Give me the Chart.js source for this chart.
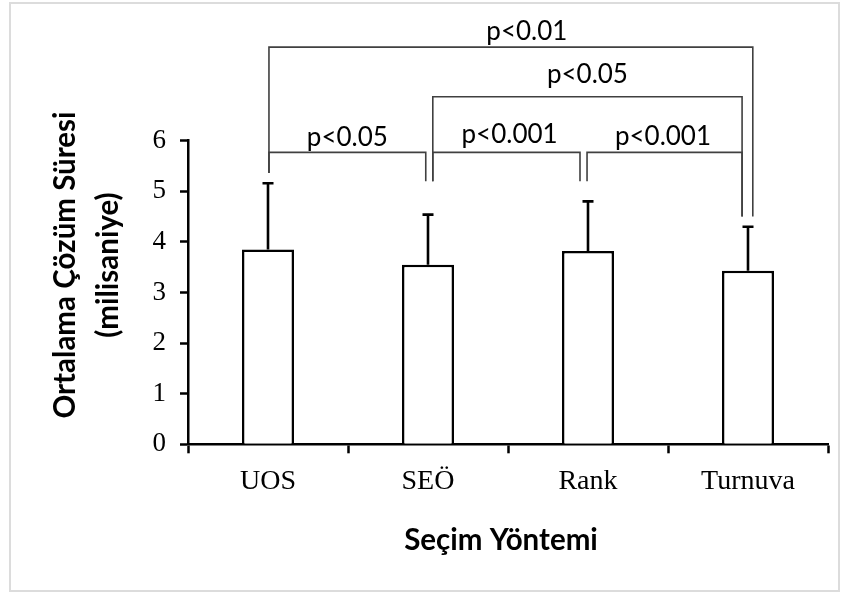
<!DOCTYPE html>
<html>
<head>
<meta charset="utf-8">
<script src="https://cdn.jsdelivr.net/npm/chart.js@4.4.1/dist/chart.umd.min.js"></script>
<style>
  html, body { margin: 0; padding: 0; background: #fff; }
  #wrap { width: 842px; height: 595px; position: relative; }
</style>
</head>
<body>
<div id="wrap"><canvas id="chart" width="842" height="595"></canvas></div>
<script>
// Mean solution time per selection method, with standard deviation
const categories = ['UOS', 'SEÖ', 'Rank', 'Turnuva'];
const meanTimes = [3.85, 3.55, 3.82, 3.43];
const stdDevs = [1.31, 0.99, 0.98, 0.87];
const yTickValues = [0, 1, 2, 3, 4, 5, 6];

// Pairwise significance comparisons (category indices) and their labels
const comparisonPairs = [[0, 1], [1, 2], [2, 3], [1, 3], [0, 3]];
const comparisonLabels = ['p<0.05', 'p<0.001', 'p<0.001', 'p<0.05', 'p<0.01'];

const yAxisTitle = ['Ortalama Çözüm Süresi', '(milisaniye)'];
const xAxisTitle = 'Seçim Yöntemi';

// Bracket geometry: level of the horizontal bar and bottom of each leg (value units),
// leg shifts off the category centres and label placement.
const bracketLayout = [
  { level: 5.77, feet: [5.36, 5.20], shift: [0.006, -0.014], labelDx: 0.0,  labelY: 5.894 },
  { level: 5.77, feet: [5.20, 5.20], shift: [0.03, -0.05],   labelDx: 0.02, labelY: 5.95 },
  { level: 5.77, feet: [5.20, 4.50], shift: [-0.006, -0.037], labelDx: -0.01, labelY: 5.915 },
  { level: 6.87, feet: [5.20, 4.50], shift: [0.03, -0.037],  labelDx: 0.0,  labelY: 7.14 },
  { level: 7.85, feet: [5.36, 4.50], shift: [0.006, 0.03],   labelDx: 0.10, labelY: 7.99 }
];

const serif = "'Liberation Serif', 'Times New Roman', serif";
const sans = "Lato, 'Open Sans', sans-serif";

const framePlugin = {
  id: 'frame',
  beforeDraw(chart) {
    const c = chart.ctx;
    c.save();
    c.fillStyle = '#ffffff';
    c.fillRect(0, 0, chart.width, chart.height);
    c.strokeStyle = '#dcdcdc';
    c.lineWidth = 2;
    c.strokeRect(10, 3, 829, 588);
    c.restore();
  }
};

const errorBarPlugin = {
  id: 'errorBars',
  afterDatasetsDraw(chart) {
    const c = chart.ctx;
    const y = chart.scales.y;
    const meta = chart.getDatasetMeta(0);
    c.save();
    c.strokeStyle = '#000';
    c.lineWidth = 2.6;
    meta.data.forEach((bar, i) => {
      const yBase = y.getPixelForValue(meanTimes[i]);
      const yTop = y.getPixelForValue(meanTimes[i] + stdDevs[i]);
      c.beginPath();
      c.moveTo(bar.x, yBase);
      c.lineTo(bar.x, yTop);
      c.moveTo(bar.x - 5.5, yTop);
      c.lineTo(bar.x + 5.5, yTop);
      c.stroke();
    });
    c.restore();
  }
};

const bracketPlugin = {
  id: 'brackets',
  afterDraw(chart) {
    const c = chart.ctx;
    const xs = chart.scales.x;
    const ys = chart.scales.y;
    c.save();
    c.strokeStyle = '#404040';
    c.lineWidth = 1.6;
    c.fillStyle = '#000';
    c.font = "26px " + sans;
    c.textAlign = 'center';
    c.textBaseline = 'alphabetic';
    comparisonPairs.forEach((pair, k) => {
      const L = bracketLayout[k];
      const x1 = xs.getPixelForValue(pair[0] + L.shift[0]);
      const x2 = xs.getPixelForValue(pair[1] + L.shift[1]);
      const top = ys.getPixelForValue(L.level);
      c.beginPath();
      c.moveTo(x1, ys.getPixelForValue(L.feet[0]));
      c.lineTo(x1, top);
      c.lineTo(x2, top);
      c.lineTo(x2, ys.getPixelForValue(L.feet[1]));
      c.stroke();
      const lx = xs.getPixelForValue((pair[0] + L.shift[0] + pair[1] + L.shift[1]) / 2 + L.labelDx);
      c.fillText(comparisonLabels[k], lx, ys.getPixelForValue(L.labelY));
    });
    c.restore();
  }
};

const titlePlugin = {
  id: 'axisTitles',
  afterDraw(chart) {
    const c = chart.ctx;
    c.save();
    c.fillStyle = '#000';
    c.font = "bold 29.5px " + sans;
    c.textAlign = 'center';
    c.textBaseline = 'alphabetic';
    c.fillText(xAxisTitle, 501, 550);
    const baselines = [75, 118];
    yAxisTitle.forEach((line, i) => {
      c.save();
      c.translate(baselines[i], 265);
      c.rotate(-Math.PI / 2);
      c.fillText(line, 0, 0);
      c.restore();
    });
    c.restore();
  }
};

new Chart(document.getElementById('chart'), {
  type: 'bar',
  data: {
    labels: categories,
    datasets: [{
      data: meanTimes,
      backgroundColor: '#ffffff',
      borderColor: '#000000',
      borderWidth: 2.5,
      barPercentage: 0.325,
      categoryPercentage: 1
    }]
  },
  options: {
    responsive: false,
    animation: false,
    layout: { padding: { top: 140.7, right: 14, left: 0, bottom: 0 } },
    plugins: { legend: { display: false }, tooltip: { enabled: false }, title: { display: false } },
    scales: {
      x: {
        afterFit(scale) { scale.height = 150.7; },
        grid: { offset: true, drawOnChartArea: false, drawTicks: true, tickLength: 9, tickWidth: 2.5, tickColor: '#000' },
        border: { display: true, color: '#000', width: 2.5 },
        ticks: { color: '#000', font: { family: serif, size: 28 }, padding: 12 }
      },
      y: {
        min: 0,
        max: 6,
        afterFit(scale) { scale.width = 188; },
        afterBuildTicks(scale) { scale.ticks = yTickValues.map(v => ({ value: v })); },
        grid: { drawOnChartArea: false, drawTicks: true, tickLength: 8, tickWidth: 2.5, tickColor: '#000' },
        border: { display: true, color: '#000', width: 2.5 },
        ticks: { color: '#000', font: { family: serif, size: 27 }, padding: 14 }
      }
    }
  },
  plugins: [framePlugin, errorBarPlugin, bracketPlugin, titlePlugin]
});
</script>
</body>
</html>
